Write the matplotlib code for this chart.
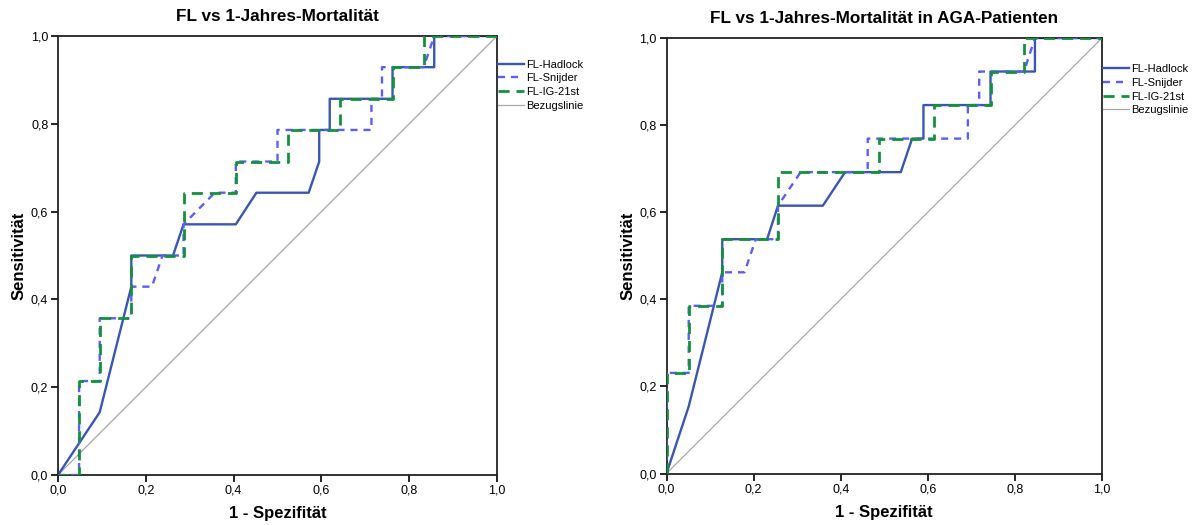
import matplotlib
matplotlib.use("Agg")
import matplotlib.pyplot as plt
from matplotlib.ticker import FuncFormatter

plt.rcParams['font.family'] = ['Liberation Sans', 'DejaVu Sans']

# ---- Data: left panel (FL vs 1-Jahres-Mortalität) ----
left_hadlock_x = [0, 0.095, 0.167, 0.167, 0.262, 0.286, 0.405, 0.452, 0.571, 0.595, 0.595, 0.619, 0.619, 0.762, 0.762, 0.857, 0.857, 1.0]
left_hadlock_y = [0, 0.143, 0.429, 0.500, 0.500, 0.571, 0.571, 0.643, 0.643, 0.714, 0.786, 0.786, 0.857, 0.857, 0.929, 0.929, 1.0, 1.0]

left_snijder_x = [0, 0.048, 0.048, 0.095, 0.095, 0.167, 0.167, 0.214, 0.238, 0.286, 0.286, 0.357, 0.405, 0.405, 0.500, 0.500, 0.714, 0.714, 0.738, 0.738, 0.833, 0.857, 1.0]
left_snijder_y = [0, 0, 0.214, 0.214, 0.357, 0.357, 0.429, 0.429, 0.500, 0.500, 0.571, 0.643, 0.643, 0.714, 0.714, 0.786, 0.786, 0.857, 0.857, 0.929, 0.929, 1.0, 1.0]

left_ig_x = [0, 0.048, 0.048, 0.095, 0.095, 0.167, 0.167, 0.286, 0.286, 0.405, 0.405, 0.524, 0.524, 0.643, 0.643, 0.762, 0.762, 0.833, 0.833, 1.0]
left_ig_y = [0, 0, 0.214, 0.214, 0.357, 0.357, 0.500, 0.500, 0.643, 0.643, 0.714, 0.714, 0.786, 0.786, 0.857, 0.857, 0.929, 0.929, 1.0, 1.0]

# ---- Data: right panel (AGA-Patienten) ----
right_hadlock_x = [0, 0.051, 0.128, 0.128, 0.231, 0.256, 0.359, 0.410, 0.538, 0.564, 0.590, 0.590, 0.744, 0.744, 0.846, 0.846, 1.0]
right_hadlock_y = [0, 0.154, 0.462, 0.538, 0.538, 0.615, 0.615, 0.692, 0.692, 0.769, 0.769, 0.846, 0.846, 0.923, 0.923, 1.0, 1.0]

right_snijder_x = [0, 0, 0.051, 0.051, 0.128, 0.128, 0.179, 0.205, 0.256, 0.256, 0.308, 0.462, 0.462, 0.692, 0.692, 0.718, 0.718, 0.821, 0.846, 1.0]
right_snijder_y = [0, 0.231, 0.231, 0.385, 0.385, 0.462, 0.462, 0.538, 0.538, 0.615, 0.692, 0.692, 0.769, 0.769, 0.846, 0.846, 0.923, 0.923, 1.0, 1.0]

right_ig_x = [0, 0, 0.051, 0.051, 0.128, 0.128, 0.256, 0.256, 0.487, 0.487, 0.615, 0.615, 0.744, 0.744, 0.821, 0.821, 1.0]
right_ig_y = [0, 0.231, 0.231, 0.385, 0.385, 0.538, 0.538, 0.692, 0.692, 0.769, 0.769, 0.846, 0.846, 0.923, 0.923, 1.0, 1.0]

ref_x = [0, 1]
ref_y = [0, 1]

titles = ["FL vs 1-Jahres-Mortalität", "FL vs 1-Jahres-Mortalität in AGA-Patienten"]
labels = ["FL-Hadlock", "FL-Snijder", "FL-IG-21st", "Bezugslinie"]
xlabel = "1 - Spezifität"
ylabel = "Sensitivität"
ticks = [0.0, 0.2, 0.4, 0.6, 0.8, 1.0]

col_hadlock = "#3a55b4"
col_snijder = "#5c5cff"
col_ig = "#13913d"
col_ref = "#a8a8a8"

fig = plt.figure(figsize=(11.93, 5.25), dpi=100)
ax1 = fig.add_axes([58/1193, 50/525, 439/1193, 439/525])
ax2 = fig.add_axes([666.5/1193, 51.5/525, 435.5/1193, 435.5/525])

panels = [
    (ax1, (left_hadlock_x, left_hadlock_y), (left_snijder_x, left_snijder_y), (left_ig_x, left_ig_y), titles[0], 0.949),
    (ax2, (right_hadlock_x, right_hadlock_y), (right_snijder_x, right_snijder_y), (right_ig_x, right_ig_y), titles[1], 0.942),
]

fmt = FuncFormatter(lambda v, p: f"{v:.1f}".replace(".", ","))

for ax, had, snij, ig, title, legy in panels:
    lref, = ax.plot(ref_x, ref_y, color=col_ref, lw=0.9, label=labels[3], zorder=1)
    l1, = ax.plot(had[0], had[1], color=col_hadlock, lw=1.7, label=labels[0], zorder=2)
    l2, = ax.plot(snij[0], snij[1], color=col_snijder, lw=1.7, linestyle=(0, (3, 2.5)), label=labels[1], zorder=3)
    l3, = ax.plot(ig[0], ig[1], color=col_ig, lw=2.0, linestyle=(0, (4, 2.5)), label=labels[2], zorder=4)
    ax.set_xlim(0, 1)
    ax.set_ylim(0, 1)
    ax.set_xticks(ticks)
    ax.set_yticks(ticks)
    ax.xaxis.set_major_formatter(fmt)
    ax.yaxis.set_major_formatter(fmt)
    ax.tick_params(direction='out', length=5, width=1.2, labelsize=9, pad=2, colors='black')
    for s in ax.spines.values():
        s.set_linewidth(1.3)
        s.set_color('#222222')
    ax.set_title(title, fontsize=12.3, fontweight='bold', pad=11)
    ax.set_xlabel(xlabel, fontsize=12, fontweight='bold', labelpad=7)
    ax.set_ylabel(ylabel, fontsize=12, fontweight='bold', labelpad=3)
    ax.legend([l1, l2, l3, lref], labels, loc='upper left', bbox_to_anchor=(1.0, legy),
              frameon=False, fontsize=8, handlelength=2.3, handletextpad=0.2,
              labelspacing=0.33, borderaxespad=0.0, borderpad=0.1)

fig.savefig("out.png", dpi=100)
